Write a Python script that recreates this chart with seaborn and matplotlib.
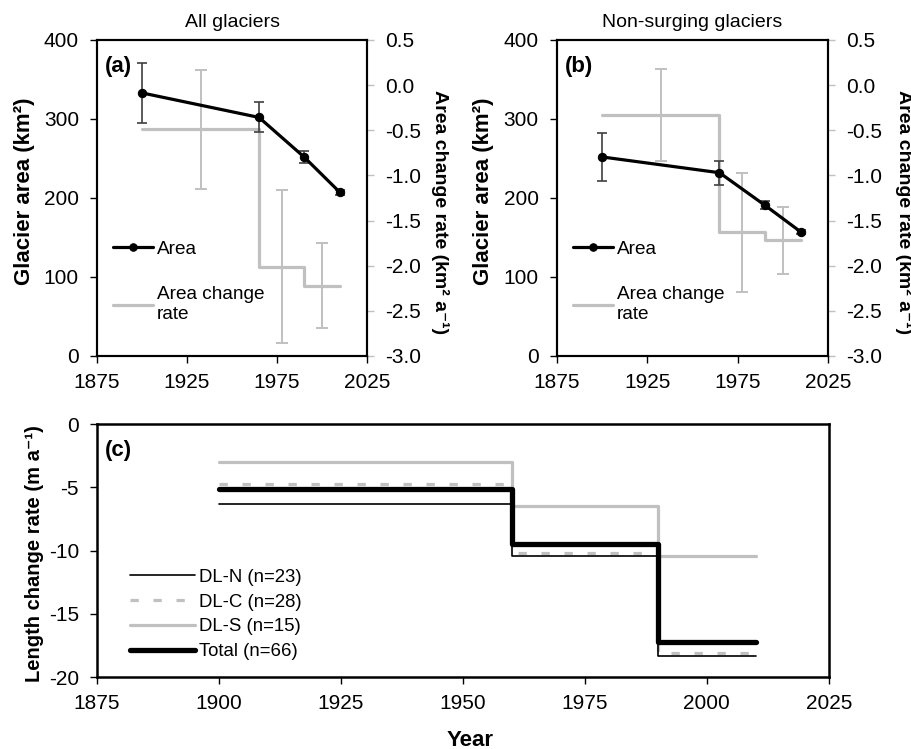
import numpy as np
import pandas as pd
import matplotlib
matplotlib.use("Agg")
import matplotlib.pyplot as plt
import seaborn as sns

# ---------------- data ----------------
area_years = [1900, 1965, 1990, 2010]

area_all = [333, 302, 252, 207]
area_all_err = [38, 19, 8, 3]
area_ns = [252, 232, 191, 157]
area_ns_err = [30, 15, 5, 2]

period_starts = [1900, 1965, 1990]
period_ends = [1965, 1990, 2010]
rate_all = [-0.49, -2.01, -2.22]
rate_all_err = [0.66, 0.85, 0.47]
rate_ns = [-0.33, -1.63, -1.72]
rate_ns_err = [0.51, 0.66, 0.37]

len_starts = [1900, 1960, 1990]
len_ends = [1960, 1990, 2010]
len_dln = [-6.3, -10.45, -18.3]
len_dlc = [-4.7, -10.15, -18.05]
len_dls = [-3.0, -6.5, -10.45]
len_total = [-5.15, -9.45, -17.25]

year_ticks_ab = [1875, 1925, 1975, 2025]
year_ticks_c = [1875, 1900, 1925, 1950, 1975, 2000, 2025]

# ---------------- style ----------------
sns.set_theme(style="ticks")
plt.rcParams["font.family"] = ["Liberation Sans", "DejaVu Sans"]
plt.rcParams["axes.unicode_minus"] = False
plt.rcParams["axes.linewidth"] = 1.5
plt.rcParams["axes.edgecolor"] = "black"
plt.rcParams["text.color"] = "black"
plt.rcParams["axes.labelcolor"] = "black"
plt.rcParams["xtick.color"] = "black"
plt.rcParams["ytick.color"] = "black"

BLACK = "#000000"
GRAY = "#c0c0c0"
DARK = "#404040"
TICK_FS = 15
LAB_FS = 16
RLAB_FS = 14
CLAB_FS = 14.5

fig = plt.figure(figsize=(9.12, 7.49), dpi=100)


def steps(starts, ends, vals):
    xs = list(starts) + [ends[-1]]
    ys = list(vals) + [vals[-1]]
    return xs, ys


def area_panel(rect, area, area_err, rate, rate_err, title, tag, rlab_x):
    ax = fig.add_axes(rect)
    tw = ax.twinx()
    xs, ys = steps(period_starts, period_ends, rate)
    sns.lineplot(x=xs, y=ys, ax=tw, color=GRAY, lw=2.3,
                 drawstyle="steps-post", estimator=None, sort=False,
                 label="Area change\nrate", legend=False)
    mids = [(s + e) / 2 for s, e in zip(period_starts, period_ends)]
    tw.errorbar(mids, rate, yerr=rate_err, fmt="none", ecolor=GRAY,
                elinewidth=1.4, capsize=4, capthick=1.4)
    ax.errorbar(area_years, area, yerr=area_err, fmt="none", ecolor=DARK,
                elinewidth=1.2, capsize=3.5, capthick=1.2, zorder=3)
    sns.lineplot(x=area_years, y=area, ax=ax, color=BLACK, lw=2.3,
                 marker="o", markersize=6, markeredgecolor=BLACK,
                 estimator=None, label="Area", legend=False, zorder=4)
    ax.set_zorder(tw.get_zorder() + 1)
    ax.patch.set_visible(False)

    ax.set_xlim(1875, 2025)
    ax.set_xticks(year_ticks_ab)
    ax.set_ylim(0, 400)
    ax.set_yticks([0, 100, 200, 300, 400])
    tw.set_ylim(-3.0, 0.5)
    tw.set_yticks(np.arange(-3.0, 0.51, 0.5))
    tw.set_yticklabels([f"{v:.1f}" for v in np.arange(-3.0, 0.51, 0.5)])

    ax.tick_params(axis="both", labelsize=TICK_FS, length=5, width=1,
                   direction="out", colors=BLACK)
    ax.tick_params(axis="x", pad=7)
    ax.tick_params(axis="y", pad=8)
    tw.tick_params(axis="y", labelsize=TICK_FS, length=5, width=1,
                   direction="out", color=GRAY, labelcolor=BLACK, pad=8)
    for sp in ax.spines.values():
        sp.set_visible(True)
        sp.set_linewidth(1.5)
    for sp in tw.spines.values():
        sp.set_linewidth(1.5)

    ax.set_ylabel("Glacier area (km²)", fontsize=LAB_FS, fontweight="bold",
                  va="center")
    ax.yaxis.set_label_coords(-0.268, 0.52)
    tw.set_ylabel("Area change rate (km² a⁻¹)", fontsize=RLAB_FS,
                  fontweight="bold", rotation=270, va="center")
    tw.yaxis.set_label_coords(rlab_x, 0.455)
    ax.set_xlabel("")
    ax.set_title(title, fontsize=14, pad=9)
    ax.text(0.03, 0.915, tag, transform=ax.transAxes, fontsize=16,
            fontweight="bold", ha="left", va="center")

    h1, l1 = ax.get_legend_handles_labels()
    h2, l2 = tw.get_legend_handles_labels()
    ax.legend(h1 + h2, l1 + l2, loc="center left",
              bbox_to_anchor=(0.06, 0.235), frameon=False,
              fontsize=13.7, handlelength=2.1, handletextpad=0.2,
              labelspacing=1.5, borderaxespad=0, borderpad=0,
              markerscale=0.9)
    return ax, tw


area_panel([0.1064, 0.5247, 0.296, 0.4219], area_all, area_all_err,
           rate_all, rate_all_err, "All glaciers", "(a)", 1.27)
area_panel([0.6104, 0.5247, 0.2975, 0.4219], area_ns, area_ns_err,
           rate_ns, rate_ns_err, "Non-surging glaciers", "(b)", 1.28)

# ---------------- panel (c) ----------------
axc = fig.add_axes([0.1064, 0.0957, 0.8023, 0.3382])
series = [
    ("DL-S (n=15)", len_dls, dict(color=GRAY, lw=2.3)),
    ("DL-C (n=28)", len_dlc, dict(color=GRAY, lw=2.3, dashes=(2.6, 4.6))),
    ("DL-N (n=23)", len_dln, dict(color=BLACK, lw=1.2)),
    ("Total (n=66)", len_total, dict(color=BLACK, lw=3.8)),
]
for name, vals, kw in series:
    xs, ys = steps(len_starts, len_ends, vals)
    sns.lineplot(x=xs, y=ys, ax=axc, drawstyle="steps-post",
                 estimator=None, sort=False, label=name, legend=False,
                 solid_capstyle="round", **kw)

axc.set_xlim(1875, 2025)
axc.set_xticks(year_ticks_c)
axc.set_ylim(-20, 0)
axc.set_yticks([-20, -15, -10, -5, 0])
axc.tick_params(axis="both", labelsize=TICK_FS, length=5, width=1,
                direction="out", colors=BLACK)
axc.tick_params(axis="x", pad=7)
axc.tick_params(axis="y", pad=8)
for sp in axc.spines.values():
    sp.set_visible(True)
    sp.set_linewidth(1.8)
axc.set_ylabel("Length change rate (m a⁻¹)", fontsize=CLAB_FS,
               fontweight="bold", va="center")
axc.yaxis.set_label_coords(-0.085, 0.49)
axc.set_xlabel("Year", fontsize=LAB_FS, fontweight="bold")
axc.xaxis.set_label_coords(0.51, -0.2475)
axc.xaxis.label.set_va("center")
axc.text(0.011, 0.895, "(c)", transform=axc.transAxes, fontsize=16,
         fontweight="bold", ha="left", va="center")

h, l = axc.get_legend_handles_labels()
order = ["DL-N (n=23)", "DL-C (n=28)", "DL-S (n=15)", "Total (n=66)"]
hm = dict(zip(l, h))
axc.legend([hm[o] for o in order], order, loc="center left",
           bbox_to_anchor=(0.045, 0.248), frameon=False, fontsize=13.4,
           handlelength=3.5, handletextpad=0.2, labelspacing=0.42,
           borderaxespad=0, borderpad=0)

fig.savefig("out.png", dpi=100)
